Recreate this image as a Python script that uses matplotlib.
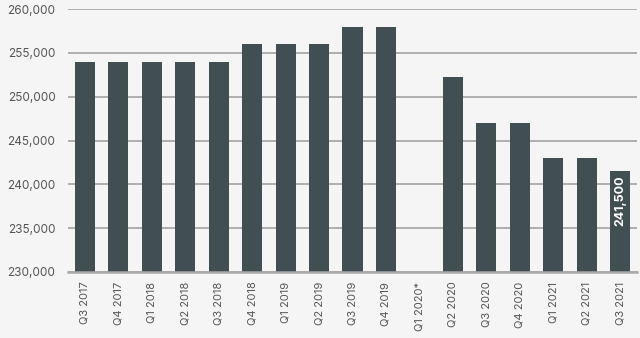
import matplotlib
matplotlib.use("Agg")
import matplotlib.pyplot as plt
import numpy as np

categories = ["Q3 2017", "Q4 2017", "Q1 2018", "Q2 2018", "Q3 2018", "Q4 2018",
              "Q1 2019", "Q2 2019", "Q3 2019", "Q4 2019", "Q1 2020*", "Q2 2020",
              "Q3 2020", "Q4 2020", "Q1 2021", "Q2 2021", "Q3 2021"]
values = [254000, 254000, 254000, 254000, 254000, 256000,
          256000, 256000, 258000, 258000, np.nan, 252200,
          247000, 247000, 243000, 243000, 241500]
yticks = [230000, 235000, 240000, 245000, 250000, 255000, 260000]
label_text = "241,500"

plt.rcParams['font.family'] = ['Inter', 'DejaVu Sans']

bg = "#f5f5f5"
bar_color = "#414f52"
grid_color = "#a9a9a9"
text_color = "#555555"

fig = plt.figure(figsize=(6.4, 3.38), dpi=100, facecolor=bg)
ax = fig.add_axes([68/640, 1 - 272/338, (637-68)/640, (272-9)/338], facecolor=bg)

x = np.arange(len(categories))
heights = [v - yticks[0] if not np.isnan(v) else 0 for v in values]
ax.bar(x, heights, bottom=yticks[0], width=0.6, color=bar_color, zorder=3)

ax.set_xlim(-0.5, len(categories) - 0.5)
ax.set_ylim(yticks[0], yticks[-1])
ax.set_yticks(yticks)
ax.set_yticklabels([f"{v:,}" for v in yticks])
ax.set_xticks(x)
ax.set_xticklabels(categories, rotation=90)
for s in ax.spines.values():
    s.set_visible(False)
ax.tick_params(axis='y', length=0, pad=9, labelsize=8.5, labelcolor=text_color)
ax.tick_params(axis='x', length=0, pad=7, labelsize=8, labelcolor=text_color)
ax.yaxis.grid(True, color=grid_color, linewidth=1.3, zorder=0)
ax.set_axisbelow(True)
ax.axhline(yticks[0], color=grid_color, linewidth=1.8, zorder=4, clip_on=False)

# value label on last bar
ax.text(x[-1], 238100, label_text, rotation=90, ha='center', va='center',
        color='white', fontsize=9, fontweight='bold', zorder=5)

fig.savefig("out.png", dpi=100, facecolor=bg)
